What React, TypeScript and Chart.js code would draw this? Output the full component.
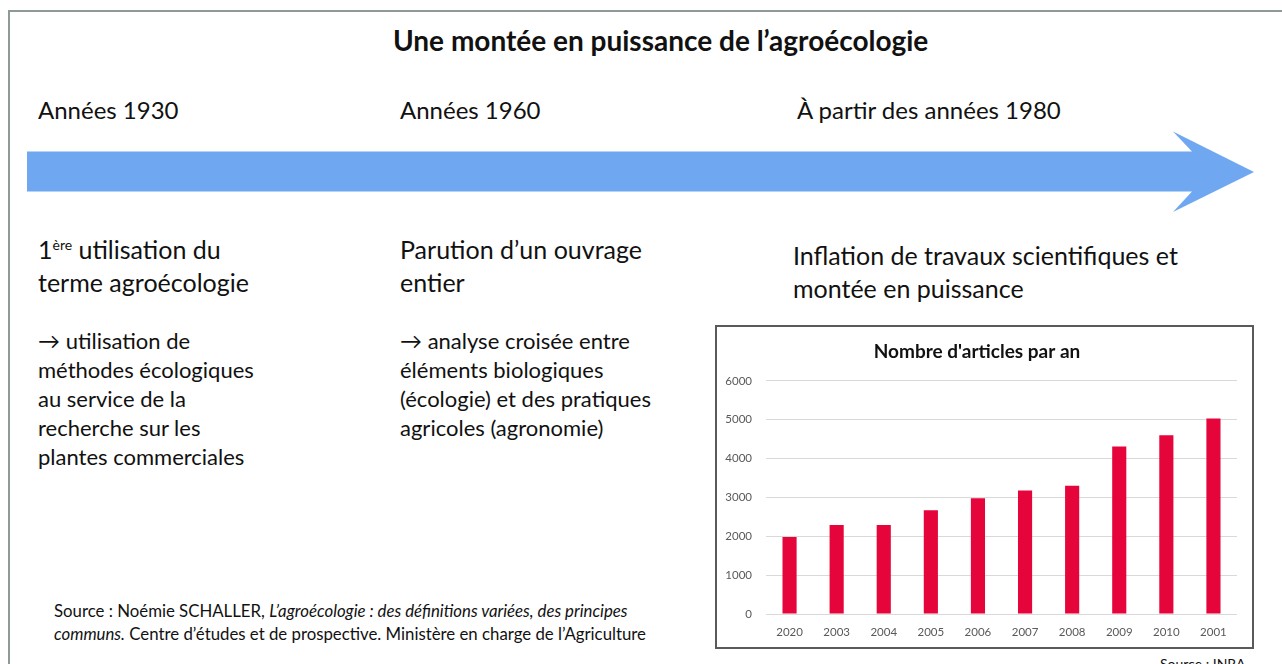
import React, { useEffect, useRef } from "react";
import { Chart, registerables } from "chart.js";

Chart.register(...registerables);

const years = ["2020", "2003", "2004", "2005", "2006", "2007", "2008", "2009", "2010", "2001"];
const articles = [1980, 2290, 2290, 2670, 2980, 3180, 3300, 4310, 4600, 5030];
const yMin = 0;
const yMax = 6000;
const yStep = 1000;

const FONT = "Lato, 'Noto Sans', sans-serif";

function BarChart() {
  const ref = useRef<HTMLCanvasElement | null>(null);
  useEffect(() => {
    if (!ref.current) return;
    const chart = new Chart(ref.current, {
      type: "bar",
      data: {
        labels: years,
        datasets: [
          {
            data: articles,
            backgroundColor: "#e6053a",
            barPercentage: 0.3,
            categoryPercentage: 1,
          },
        ],
      },
      options: {
        animation: false,
        responsive: false,
        maintainAspectRatio: false,
        layout: { padding: { left: 0, right: 15, top: 0, bottom: 0 } },
        plugins: {
          legend: { display: false },
          tooltip: { enabled: false },
          title: {
            display: true,
            text: "Nombre d'articles par an",
            color: "#111",
            font: { family: FONT, size: 19, weight: "bold" },
            padding: { top: 13, bottom: 18 },
          },
        },
        scales: {
          x: {
            grid: { display: false, drawTicks: false },
            border: { display: false },
            ticks: { color: "#595959", font: { family: FONT, size: 11.5 }, padding: 11 },
            afterFit: (s: any) => {
              s.height = 33;
            },
          },
          y: {
            min: yMin,
            max: yMax,
            ticks: {
              stepSize: yStep,
              color: "#595959",
              font: { family: FONT, size: 11.5 },
              padding: 14,
              callback: (v: any) => String(v),
            },
            grid: { color: "#d9d9d9", drawTicks: false, lineWidth: 1 },
            border: { display: false },
            afterFit: (s: any) => {
              s.width = 49;
            },
          },
        },
      },
    });
    return () => chart.destroy();
  }, []);
  return <canvas ref={ref} width={535} height={320} style={{ display: "block", width: 535, height: 320 }} />;
}

const abs = (left: number, top: number, extra: React.CSSProperties = {}): React.CSSProperties => ({
  position: "absolute",
  left,
  top,
  whiteSpace: "nowrap",
  fontFamily: FONT,
  color: "#111",
  ...extra,
});

export default function App() {
  const head = { fontSize: 25, lineHeight: "33px" };
  const body = { fontSize: 22, lineHeight: "29px" };
  return (
    <div
      style={{
        position: "fixed",
        left: 0,
        top: 0,
        width: 1282,
        height: 664,
        overflow: "hidden",
        background: "#fff",
        fontFamily: FONT,
      }}
    >
      {/* frame */}
      <div style={{ position: "absolute", left: 8, top: 10, width: 1300, height: 2, background: "#8c9c94" }} />
      <div style={{ position: "absolute", left: 8, top: 10, width: 2, height: 700, background: "#8c9c94" }} />

      <div style={abs(393, 22, { fontSize: 28, fontWeight: 700, lineHeight: "36px" })}>
        Une montée en puissance de l’agroécologie
      </div>

      <div style={abs(38, 93, { fontSize: 24, lineHeight: "34px" })}>Années 1930</div>
      <div style={abs(400, 93, { fontSize: 24, lineHeight: "34px" })}>Années 1960</div>
      <div style={abs(797, 93, { fontSize: 24, lineHeight: "34px" })}>À partir des années 1980</div>

      <svg style={{ position: "absolute", left: 0, top: 0 }} width={1282} height={664}>
        <polygon
          points="27,151.5 1192,151.5 1173,131.5 1254,172 1173,212 1192,191.5 27,191.5"
          fill="#6fa8f0"
        />
      </svg>

      <div style={abs(38, 233, head)}>
        1<sup style={{ fontSize: 14, verticalAlign: "top", position: "relative", top: -5 }}>ère</sup> utilisation du
        <br />
        terme agroécologie
      </div>
      <div style={abs(38, 326, body)}>
        → utilisation de
        <br />
        méthodes écologiques
        <br />
        au service de la
        <br />
        recherche sur les
        <br />
        plantes commerciales
      </div>

      <div style={abs(400, 233, head)}>
        Parution d’un ouvrage
        <br />
        entier
      </div>
      <div style={abs(400, 326, body)}>
        → analyse croisée entre
        <br />
        éléments biologiques
        <br />
        (écologie) et des pratiques
        <br />
        agricoles (agronomie)
      </div>

      <div style={abs(793, 239, head)}>
        Inflation de travaux scientifiques et
        <br />
        montée en puissance
      </div>

      <div style={abs(54, 599, { fontSize: 16.8, lineHeight: "23px" })}>
        Source : Noémie SCHALLER, <i>L’agroécologie : des définitions variées, des principes</i>
        <br />
        <i>communs.</i> Centre d’études et de prospective. Ministère en charge de l’Agriculture
      </div>

      <div
        style={{
          position: "absolute",
          left: 715,
          top: 325,
          width: 539,
          height: 324,
          border: "2px solid #5a5a5a",
          boxSizing: "border-box",
          background: "#fff",
        }}
      >
        <BarChart />
      </div>

      <div style={abs(1160, 655, { fontSize: 14, lineHeight: "18px" })}>Source : INRA</div>
    </div>
  );
}
